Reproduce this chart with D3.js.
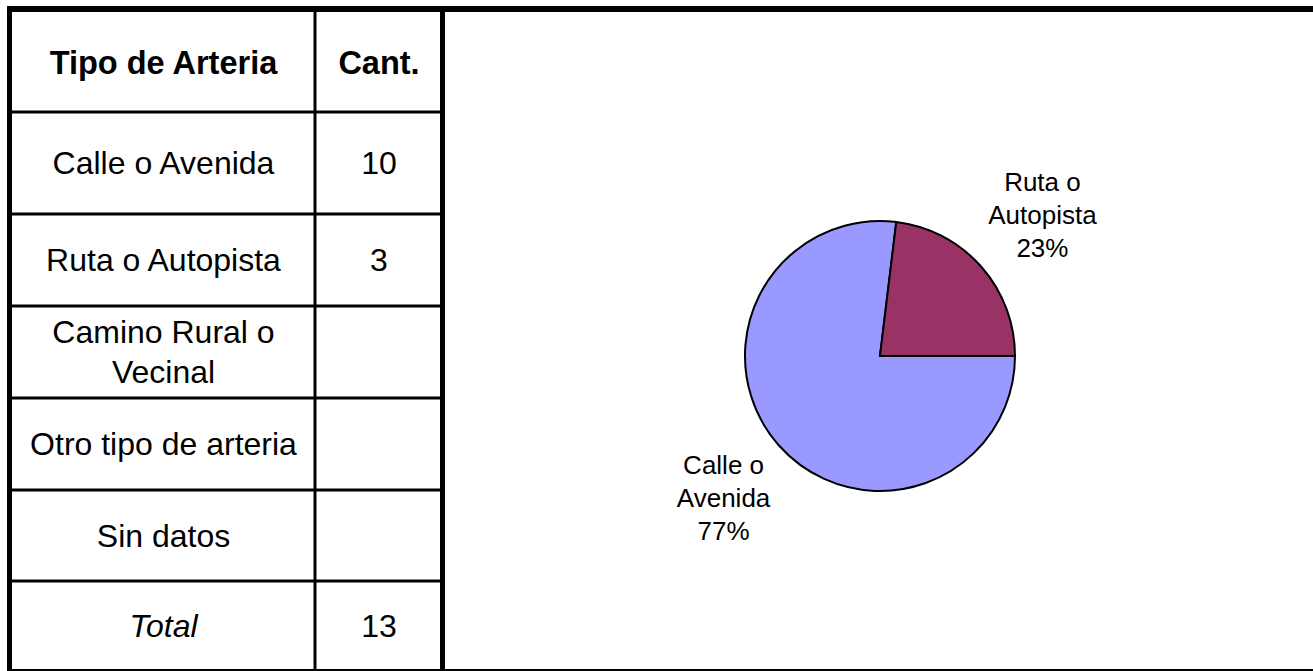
<!DOCTYPE html>
<html>
<head>
<meta charset="utf-8">
<script src="https://cdn.jsdelivr.net/npm/d3@7"></script>
<style>
  html, body { margin: 0; padding: 0; background: #fff; }
  svg { display: block; }
  text { font-family: "Liberation Sans", Arial, sans-serif; fill: #000; }
</style>
</head>
<body>
<svg id="chart" width="1313" height="671"></svg>
<script>
// ---- Data ----
const headers = ["Tipo de Arteria", "Cant."];
const categories = ["Calle o Avenida", "Ruta o Autopista", "Camino Rural o Vecinal", "Otro tipo de arteria", "Sin datos"];
const counts = [10, 3, null, null, null];
const totalLabel = "Total";
const sliceColors = ["#9999FF", "#993366"];

// ---- Layout ----
const W = 1313, H = 671;
const svg = d3.select("#chart");
const rowEdges = [12, 112, 214, 306, 398, 490, 581, 670];
const colEdges = [12, 315, 441];
const tableFont = 32, headerFont = 32.5, tableLH = 40;

const total = d3.sum(counts.filter(v => v != null));
const rows = [
  { label: headers[0], value: headers[1], style: "header" },
  ...categories.map((c, i) => ({ label: c, value: counts[i] == null ? "" : String(counts[i]), style: "normal" })),
  { label: totalLabel, value: String(total), style: "total" }
];

function wrap(text, fontSize, weight, style, maxW) {
  const tmp = svg.append("text").attr("font-size", fontSize).attr("font-weight", weight).attr("font-style", style);
  const words = text.split(" ");
  const lines = [];
  let cur = "";
  words.forEach(w => {
    const trial = cur ? cur + " " + w : w;
    tmp.text(trial);
    if (tmp.node().getComputedTextLength() > maxW && cur) { lines.push(cur); cur = w; }
    else cur = trial;
  });
  if (cur) lines.push(cur);
  tmp.remove();
  return lines;
}

function drawLines(g, lines, cx, cy, fs, lh, weight, style) {
  const first = cy - (lines.length - 1) * lh / 2 + 0.358 * fs;
  const t = g.append("text")
    .attr("text-anchor", "middle")
    .attr("font-size", fs)
    .attr("font-weight", weight)
    .attr("font-style", style);
  lines.forEach((l, i) => t.append("tspan").attr("x", cx).attr("y", first + i * lh).text(l));
}

// ---- Table ----
const tbl = svg.append("g");
rows.forEach((r, i) => {
  const y0 = rowEdges[i], y1 = rowEdges[i + 1];
  const cy = (y0 + y1) / 2;
  const weight = r.style === "header" ? "bold" : "normal";
  const fstyle = r.style === "total" ? "italic" : "normal";
  const fs = r.style === "header" ? headerFont : tableFont;
  const c1 = (colEdges[0] + colEdges[1]) / 2;
  const c2 = (colEdges[1] + colEdges[2]) / 2 + 1;
  const lines = wrap(r.label, fs, weight, fstyle, 280);
  drawLines(tbl, lines, c1, cy, fs, tableLH, weight, fstyle);
  if (r.value) drawLines(tbl, [r.value], c2, cy, fs, tableLH, weight, "normal");
});

// inner horizontal lines
tbl.selectAll("line.h").data(rowEdges.slice(1, -1)).join("line")
  .attr("x1", 12).attr("x2", 440).attr("y1", d => d).attr("y2", d => d)
  .attr("stroke", "#000").attr("stroke-width", 3);
// column divider
tbl.append("line").attr("x1", 315).attr("x2", 315).attr("y1", 12).attr("y2", 670)
  .attr("stroke", "#000").attr("stroke-width", 3);
// table left and right borders
tbl.append("line").attr("x1", 9.5).attr("x2", 9.5).attr("y1", 6).attr("y2", 671)
  .attr("stroke", "#000").attr("stroke-width", 5);
tbl.append("line").attr("x1", 442.5).attr("x2", 442.5).attr("y1", 6).attr("y2", 671)
  .attr("stroke", "#000").attr("stroke-width", 5);
// top frame line
svg.append("line").attr("x1", 7).attr("x2", W).attr("y1", 9).attr("y2", 9)
  .attr("stroke", "#000").attr("stroke-width", 6);
// bottom frame line
svg.append("line").attr("x1", 7).attr("x2", W).attr("y1", 670).attr("y2", 670)
  .attr("stroke", "#000").attr("stroke-width", 2);

// ---- Pie ----
const pieData = categories.map((c, i) => ({ name: c, value: counts[i] || 0, color: sliceColors[i] }))
  .filter(d => d.value > 0);
const cx = 880, cy = 356, R = 135;
const pie = d3.pie().sort(null).value(d => d.value)
  .startAngle(Math.PI / 2).endAngle(Math.PI / 2 + 2 * Math.PI);
const arcs = pie(pieData);
const arc = d3.arc().innerRadius(0).outerRadius(R);
const labelArc = d3.arc().innerRadius(213).outerRadius(213);
const pg = svg.append("g").attr("transform", `translate(${cx},${cy})`);
pg.selectAll("path").data(arcs).join("path")
  .attr("d", arc)
  .attr("fill", d => d.data.color)
  .attr("stroke", "#000")
  .attr("stroke-width", 2)
  .attr("stroke-linejoin", "miter");

const pct = d3.format(".0%");
const labFont = 26, labLH = 33;
arcs.forEach(a => {
  const [lx, ly] = labelArc.centroid(a);
  const lines = wrap(a.data.name, labFont, "normal", "normal", 115);
  lines.push(pct(a.data.value / total));
  drawLines(pg, lines, lx + 3, ly, labFont, labLH, "normal", "normal");
});
</script>
</body>
</html>
